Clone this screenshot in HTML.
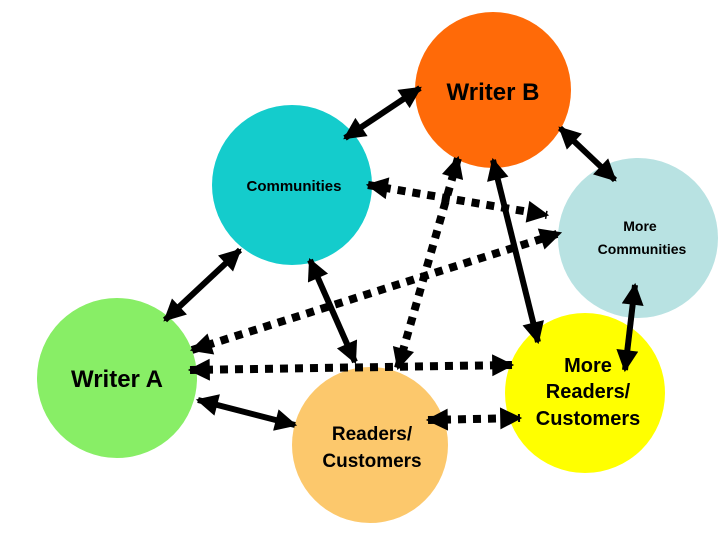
<!DOCTYPE html>
<html><head><style>html,body{margin:0;padding:0;background:#fff}svg{display:block}text{font-family:"Liberation Sans",Arial,sans-serif;font-weight:bold;fill:#000;text-anchor:middle}</style></head>
<body>
<svg width="720" height="540" viewBox="0 0 720 540" xmlns="http://www.w3.org/2000/svg">
<defs>
<marker id="a" viewBox="0 0 10 10" refX="9" refY="5" markerWidth="24" markerHeight="22" markerUnits="userSpaceOnUse" orient="auto-start-reverse"><path d="M0,0 L10,5 L0,10 z" fill="#000"/></marker>
</defs>
<circle cx="493" cy="90" r="78" fill="#ff6a08"/>
<circle cx="292" cy="185" r="80" fill="#14cccc"/>
<circle cx="638" cy="238" r="80" fill="#b8e2e2"/>
<circle cx="117" cy="378" r="80" fill="#88ee66"/>
<circle cx="370" cy="445" r="78" fill="#fcc86c"/>
<circle cx="585" cy="393" r="80" fill="#ffff00"/>
<g stroke="#000" stroke-width="6" fill="none" marker-start="url(#a)" marker-end="url(#a)">
<line x1="345" y1="138" x2="420" y2="88"/>
<line x1="560" y1="128" x2="615" y2="180"/>
<line x1="493" y1="160" x2="538" y2="342"/>
<line x1="635" y1="285" x2="625" y2="370"/>
<line x1="240" y1="250" x2="165" y2="320"/>
<line x1="310" y1="260" x2="355" y2="362"/>
<line x1="198" y1="400" x2="295" y2="425"/>
</g>
<g stroke="#000" stroke-width="8" stroke-dasharray="8 7" fill="none" marker-start="url(#a)" marker-end="url(#a)">
<line x1="428" y1="420" x2="520" y2="418"/>
<line x1="368" y1="185" x2="547" y2="215"/>
<line x1="192" y1="350" x2="560" y2="233"/>
<line x1="190" y1="370" x2="512" y2="365"/>
<line x1="398" y1="368" x2="458" y2="158"/>
</g>
<text x="493" y="100" font-size="24">Writer B</text>
<text x="294" y="191" font-size="15">Communities</text>
<text x="640" y="231" font-size="14">More</text>
<text x="642" y="254" font-size="14">Communities</text>
<text x="117" y="387" font-size="24">Writer A</text>
<text x="372" y="440" font-size="19">Readers/</text>
<text x="372" y="467" font-size="19">Customers</text>
<text x="588" y="372" font-size="20">More</text>
<text x="588" y="398" font-size="20">Readers/</text>
<text x="588" y="425" font-size="20">Customers</text>
</svg>
</body></html>
